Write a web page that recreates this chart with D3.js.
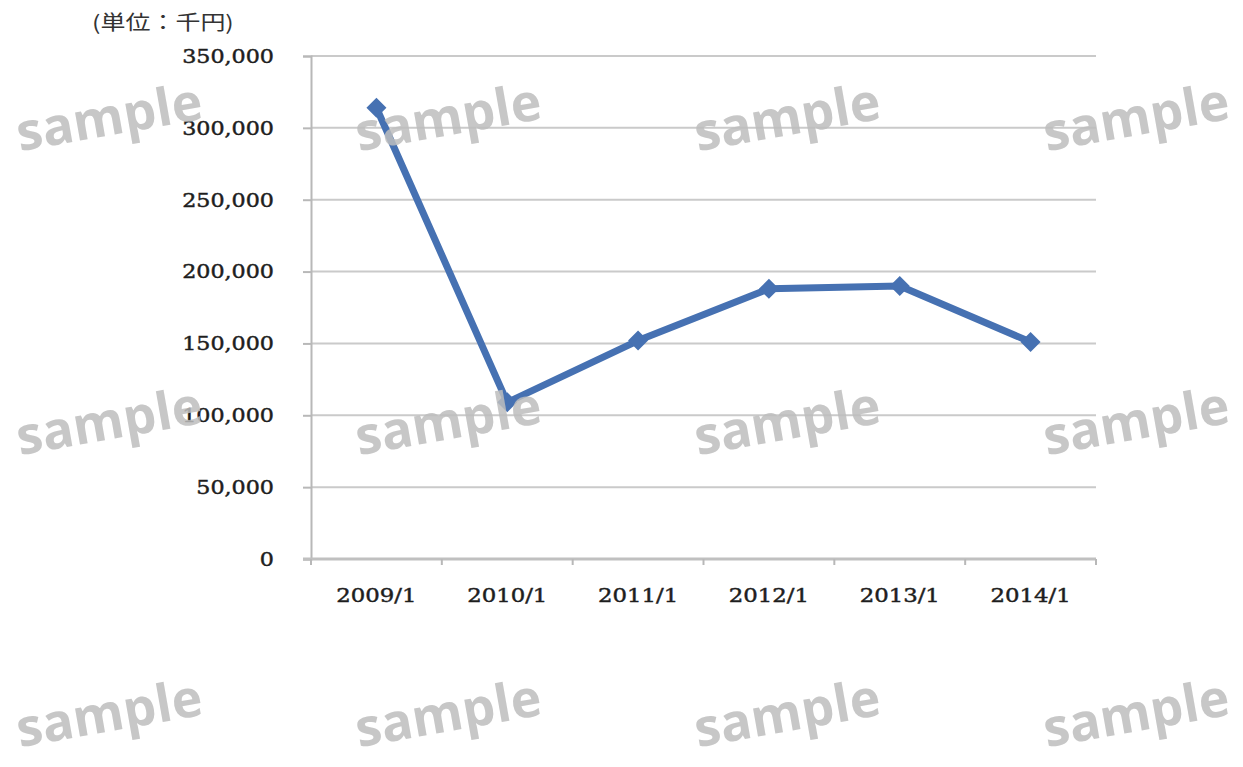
<!DOCTYPE html>
<html>
<head>
<meta charset="utf-8">
<script src="https://cdn.jsdelivr.net/npm/d3@7"></script>
<style>
  html, body { margin: 0; padding: 0; background: #fff; }
  svg { display: block; }
</style>
</head>
<body>
<svg id="chart" width="1243" height="767"></svg>
<script>
const categories = ["2009/1", "2010/1", "2011/1", "2012/1", "2013/1", "2014/1"];
const values = [314000, 109000, 152000, 188000, 190000, 151000];
const yTicks = [0, 50000, 100000, 150000, 200000, 250000, 300000, 350000];
const unitLabel = "(単位：千円)";
const watermarkText = "sample";
const watermarkCols = [109, 448, 787, 1136];
const watermarkRows = [117, 421, 713];

const svg = d3.select("#chart");
const margin = { left: 311, right: 1243 - 1096, top: 56, bottom: 767 - 559 };
const W = 1243, H = 767;

const x = d3.scaleBand().domain(categories).range([margin.left, W - margin.right]).padding(0);
const y = d3.scaleLinear().domain([0, 350000]).range([H - margin.bottom, margin.top]);

const fmt = d3.format(",");
const serif = "'DejaVu Serif', 'Liberation Serif', serif";

// gridlines
svg.append("g").selectAll("line").data(yTicks.filter(d => d > 0)).join("line")
  .attr("x1", margin.left).attr("x2", W - margin.right)
  .attr("y1", d => y(d)).attr("y2", d => y(d))
  .attr("stroke", "#cacaca").attr("stroke-width", 2);

// y axis
const yAxis = svg.append("g").attr("transform", `translate(${margin.left},0)`)
  .call(d3.axisLeft(y).tickValues(yTicks).tickSize(8).tickFormat(""));
yAxis.select(".domain").attr("stroke", "#b8b8b8").attr("stroke-width", 2);
yAxis.selectAll(".tick line").attr("stroke", "#b8b8b8").attr("stroke-width", 2);

svg.append("g").selectAll("text").data(yTicks).join("text")
  .attr("transform", d => `translate(274,${y(d)}) scale(1.17,1)`)
  .attr("text-anchor", "end").attr("dy", "0.36em")
  .attr("font-family", serif).attr("font-size", 19).attr("fill", "#1e1e1e")
  .attr("stroke", "#1e1e1e").attr("stroke-width", 0.45)
  .text(d => fmt(d));

// x axis
const boundaries = categories.map(c => x(c)).concat([x.range()[1]]);
const xg = svg.append("g");
xg.append("line").attr("x1", margin.left - 8).attr("x2", W - margin.right)
  .attr("y1", y(0)).attr("y2", y(0)).attr("stroke", "#c0c0c0").attr("stroke-width", 3);
xg.selectAll("line.tk").data(boundaries).join("line").attr("class", "tk")
  .attr("x1", d => d).attr("x2", d => d).attr("y1", y(0)).attr("y2", y(0) + 6)
  .attr("stroke", "#b8b8b8").attr("stroke-width", 2);

svg.append("g").selectAll("text").data(categories).join("text")
  .attr("transform", d => `translate(${x(d) + x.bandwidth() / 2},${y(0) + 36}) scale(1.2,1)`)
  .attr("text-anchor", "middle").attr("dy", "0.36em")
  .attr("font-family", serif).attr("font-size", 19).attr("fill", "#1e1e1e")
  .attr("stroke", "#1e1e1e").attr("stroke-width", 0.45)
  .text(d => d);

// unit label
svg.append("text")
  .attr("transform", "translate(92,30) scale(1.25,1)")
  .attr("font-family", "'Noto Sans CJK JP', sans-serif").attr("font-size", 20)
  .attr("fill", "#333")
  .text(unitLabel);

// line
svg.append("path").datum(values)
  .attr("d", d3.line().x((d, i) => x(categories[i]) + x.bandwidth() / 2).y(d => y(d)))
  .attr("fill", "none").attr("stroke", "#4671b2").attr("stroke-width", 7)
  .attr("stroke-linejoin", "round");

svg.append("g").selectAll("path").data(values).join("path")
  .attr("transform", (d, i) => `translate(${x(categories[i]) + x.bandwidth() / 2},${y(d)}) rotate(45)`)
  .attr("d", d3.symbol().type(d3.symbolSquare).size(200))
  .attr("fill", "#4671b2");

// watermarks
const wm = [];
watermarkRows.forEach(r => watermarkCols.forEach(c => wm.push([c, r])));
svg.append("g").selectAll("text").data(wm).join("text")
  .attr("transform", d => `translate(${d[0]},${d[1]}) rotate(-10)`)
  .attr("text-anchor", "middle").attr("dy", "0.35em")
  .attr("font-family", "'Open Sans', sans-serif").attr("font-weight", "bold")
  .attr("font-size", 52).attr("fill", "#bdbdbd").attr("fill-opacity", 0.85)
  .text(watermarkText);
</script>
</body>
</html>
